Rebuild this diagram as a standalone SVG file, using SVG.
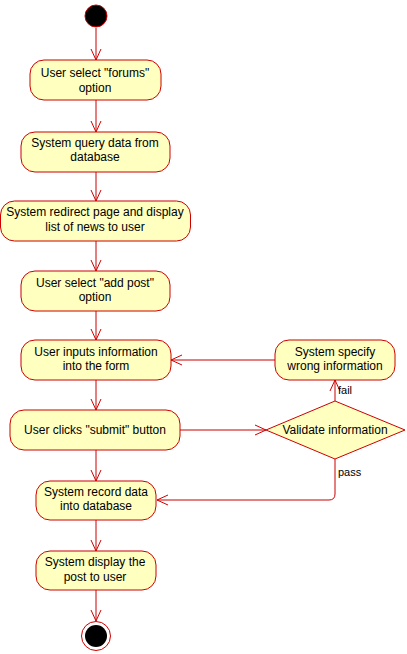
<svg xmlns="http://www.w3.org/2000/svg" width="407" height="654" viewBox="0 0 407 654">
<defs>
<marker id="arr" viewBox="0 0 12 12" refX="11" refY="6" markerWidth="12" markerHeight="12" markerUnits="userSpaceOnUse" orient="auto">
<path d="M0,1 L11,6 L0,11" fill="none" stroke="#cc0000" stroke-width="1"/>
</marker>
</defs>
<style>
.n{fill:#ffffc0;stroke:#cc0000;stroke-width:1}
.t{font-family:"Liberation Sans",Arial,sans-serif;font-size:12px;fill:#000;text-anchor:middle}
.l{font-family:"Liberation Sans",Arial,sans-serif;font-size:11px;fill:#000}
.c{fill:none;stroke:#cc0000;stroke-width:1;marker-end:url(#arr)}
</style>
<rect width="407" height="654" fill="#fff"/>
<g id="connectors">
<line class="c" x1="96" y1="28" x2="96" y2="60"/>
<line class="c" x1="96" y1="100" x2="96" y2="132"/>
<line class="c" x1="96" y1="172" x2="96" y2="201"/>
<line class="c" x1="96" y1="241" x2="96" y2="271"/>
<line class="c" x1="96" y1="311" x2="96" y2="340"/>
<line class="c" x1="96" y1="380" x2="96" y2="410"/>
<line class="c" x1="96" y1="450" x2="96" y2="481"/>
<line class="c" x1="96" y1="520" x2="96" y2="551"/>
<line class="c" x1="96" y1="590" x2="96" y2="621"/>
<line class="c" x1="180" y1="430" x2="266" y2="430"/>
<line class="c" x1="275" y1="360" x2="171" y2="360"/>
<line class="c" x1="335" y1="401" x2="335" y2="380"/>
<path class="c" d="M335,459 L335,494 Q335,500 329,500 L157,500"/>
<text class="l" x="338" y="394">fail</text>
<text class="l" x="338" y="476">pass</text>
</g>
<g id="start"><circle cx="96" cy="16" r="11" fill="#000" stroke="#cc0000" stroke-width="1"/></g>
<g id="n1"><rect class="n" x="30" y="60" width="131" height="40" rx="14"/><text class="t" x="95" y="77">User select "forums"</text><text class="t" x="95" y="92">option</text></g>
<g id="n2"><rect class="n" x="21" y="132" width="149" height="40" rx="14"/><text class="t" x="95" y="147">System query data from</text><text class="t" x="95" y="161">database</text></g>
<g id="n3"><rect class="n" x="0.5" y="201" width="190" height="40" rx="14"/><text class="t" x="95" y="216">System redirect page and display</text><text class="t" x="95" y="231">list of news to user</text></g>
<g id="n4"><rect class="n" x="21" y="271" width="149" height="40" rx="14"/><text class="t" x="95" y="287">User select "add post"</text><text class="t" x="95" y="301">option</text></g>
<g id="n5"><rect class="n" x="21" y="340" width="150" height="40" rx="14"/><text class="t" x="96" y="356">User inputs information</text><text class="t" x="96" y="370">into the form</text></g>
<g id="n9"><rect class="n" x="275" y="340" width="120" height="40" rx="14"/><text class="t" x="335" y="356">System specify</text><text class="t" x="335" y="370">wrong information</text></g>
<g id="n6"><rect class="n" x="10" y="410" width="170" height="40" rx="14"/><text class="t" x="95" y="434">User clicks "submit" button</text></g>
<g id="d1"><polygon class="n" points="335,401 405,430 335,459 266,430"/><text class="t" x="335" y="434">Validate information</text></g>
<g id="n7"><rect class="n" x="36" y="481" width="120" height="39" rx="14"/><text class="t" x="96" y="496">System record data</text><text class="t" x="96" y="510">into database</text></g>
<g id="n8"><rect class="n" x="36" y="551" width="120" height="39" rx="14"/><text class="t" x="95" y="566">System display the</text><text class="t" x="95" y="581">post to user</text></g>
<g id="end"><circle cx="96" cy="636" r="14.5" fill="#fff" stroke="#cc0000" stroke-width="1"/><circle cx="96" cy="636" r="11" fill="#000"/></g>
</svg>
